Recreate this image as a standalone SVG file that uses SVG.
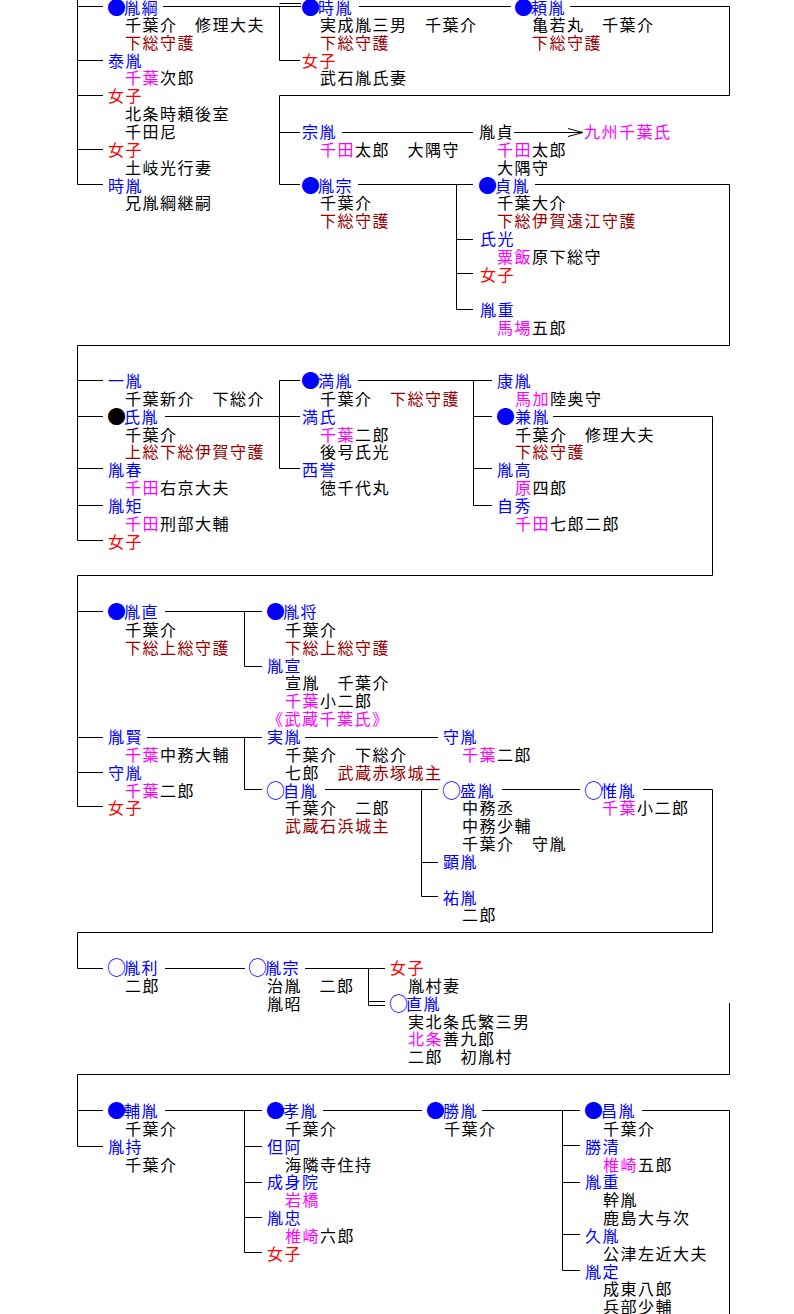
<svg xmlns="http://www.w3.org/2000/svg" width="794" height="1314" viewBox="0 0 794 1314">
<defs>
<style>
text{font-family:"Noto Sans CJK JP","Noto Sans CJK SC",sans-serif;font-size:16px;letter-spacing:1.5px;fill:#000}
.n{fill:#0000ff}.f{fill:#ff0000}.r{fill:#990000}.m{fill:#ff00ff}.k{fill:#000}
.mk{font-size:19px;letter-spacing:0}
#connectors path{stroke:#000;stroke-width:1;fill:none}
</style>
<marker id="arr" markerUnits="userSpaceOnUse" markerWidth="16" markerHeight="10" refX="15" refY="4" orient="auto" overflow="visible"><path d="M0,0 L15,4 L0,8" fill="none" stroke="#000" stroke-width="1"/></marker>
</defs>
<rect width="794" height="1314" fill="#fff"/>
<g id="connectors">
<path d="M77.5,0 V184.5 M77.5,6.5 H103 M77.5,60.5 H103 M77.5,95.5 H103 M77.5,149.5 H103 M77.5,184.5 H103 M163,6.5 H301 M279.5,3.5 H301 M279.5,6.5 V60.5 H300 M359,6.5 H511 M570,6.5 H729.5 V95.5 H279.5 V184.5 H300 M279.5,132.5 H300 M342,132.5 H473 M358,184.5 H473 M535,184.5 H729.5 V345.5 H77.5 V540.5 M456.5,184.5 V309.5 H473 M456.5,239.5 H473 M456.5,273.5 H473"/>
<path d="M514,132.5 H583" marker-end="url(#arr)"/>
<path d="M77.5,380.5 H103 M77.5,416.5 H103 M77.5,468.5 H103 M77.5,505.5 H103 M77.5,540.5 H103 M165,416.5 H300 M279.5,380.5 V468.5 H300 M279.5,380.5 H300 M358,380.5 H492 M473.5,380.5 V505.5 H492 M473.5,416.5 H492 M473.5,468.5 H492 M553,416.5 H712.5 V575.5 H77.5 V806.5"/>
<path d="M77.5,611.5 H103 M77.5,737.5 H103 M77.5,772.5 H103 M77.5,806.5 H103 M165,611.5 H262 M244.5,611.5 V666.5 H262 M147,737.5 H262 M244.5,737.5 V789.5 H262 M305,737.5 H438 M325,789.5 H438 M421.5,789.5 V896.5 H438 M421.5,862.5 H438 M502,789.5 H580 M643,789.5 H712.5 V932.5 H77.5 V968.5 H103"/>
<path d="M165,968.5 H245 M305,968.5 H385 M368.5,968.5 V1005.5 H385 M368.5,1001.5 H385 M729.5,1003 V1074.5 H77.5 V1146.5"/>
<path d="M77.5,1110.5 H103 M77.5,1146.5 H103 M165,1110.5 H262 M244.5,1110.5 V1252.5 H262 M244.5,1146.5 H262 M244.5,1182.5 H262 M244.5,1217.5 H262 M323,1110.5 H422 M482,1110.5 H580 M562.5,1110.5 V1270.5 H580 M562.5,1145.5 H580 M562.5,1182.5 H580 M562.5,1234.5 H580 M642,1110.5 H729.5 V1314"/>
</g>
<!-- Section 1 -->
<g id="s1-tanetsuna"><text class="n mk" x="107" y="15">●</text><text class="n" x="124" y="14">胤綱</text><text x="125" y="31">千葉介　修理大夫</text><text class="r" x="125" y="49">下総守護</text></g>
<g id="s1-yasutane"><text class="n" x="108" y="67">泰胤</text><text x="125" y="84"><tspan class="m">千葉</tspan>次郎</text></g>
<g id="s1-joshi1"><text class="f" x="108" y="102">女子</text><text x="125" y="120">北条時頼後室</text><text x="125" y="138">千田尼</text></g>
<g id="s1-joshi2"><text class="f" x="108" y="156">女子</text><text x="125" y="174">土岐光行妻</text></g>
<g id="s1-tokitane2"><text class="n" x="108" y="192">時胤</text><text x="125" y="209">兄胤綱継嗣</text></g>
<g id="s1-tokitane"><text class="n mk" x="301" y="15">●</text><text class="n" x="318" y="14">時胤</text><text x="320" y="31">実成胤三男　千葉介</text><text class="r" x="320" y="49">下総守護</text></g>
<g id="s1-joshi3"><text class="f" x="302" y="67">女子</text><text x="320" y="84">武石胤氏妻</text></g>
<g id="s1-munetane"><text class="n" x="302" y="138">宗胤</text><text x="320" y="156"><tspan class="m">千田</tspan>太郎　大隅守</text></g>
<g id="s1-tanemune"><text class="n mk" x="301" y="193">●</text><text class="n" x="318" y="192">胤宗</text><text x="320" y="209">千葉介</text><text class="r" x="320" y="227">下総守護</text></g>
<g id="s1-yoritane"><text class="n mk" x="514" y="15">●</text><text class="n" x="531" y="14">頼胤</text><text x="532" y="31">亀若丸　千葉介</text><text class="r" x="532" y="49">下総守護</text></g>
<g id="s1-tanesada"><text x="479" y="138">胤貞</text><text x="497" y="156"><tspan class="m">千田</tspan>太郎</text><text x="497" y="174">大隅守</text></g>
<g id="s1-kyushu"><text class="m" x="584" y="138">九州千葉氏</text></g>
<g id="s1-sadatane"><text class="n mk" x="478" y="193">●</text><text class="n" x="495" y="192">貞胤</text><text x="497" y="209">千葉大介</text><text class="r" x="497" y="227">下総伊賀遠江守護</text></g>
<g id="s1-ujimitsu"><text class="n" x="480" y="245">氏光</text><text x="497" y="263"><tspan class="m">粟飯</tspan>原下総守</text></g>
<g id="s1-joshi4"><text class="f" x="480" y="281">女子</text></g>
<g id="s1-taneshige"><text class="n" x="480" y="316">胤重</text><text x="497" y="334"><tspan class="m">馬場</tspan>五郎</text></g>
<!-- Section 2 -->
<g id="s2-kazutane"><text class="n" x="108" y="387">一胤</text><text x="125" y="405">千葉新介　下総介</text></g>
<g id="s2-ujitane"><text class="k mk" x="107" y="424">●</text><text class="n" x="124" y="423">氏胤</text><text x="125" y="441">千葉介</text><text class="r" x="125" y="458">上総下総伊賀守護</text></g>
<g id="s2-taneharu"><text class="n" x="108" y="476">胤春</text><text x="125" y="494"><tspan class="m">千田</tspan>右京大夫</text></g>
<g id="s2-tanenori"><text class="n" x="108" y="512">胤矩</text><text x="125" y="530"><tspan class="m">千田</tspan>刑部大輔</text></g>
<g id="s2-joshi"><text class="f" x="108" y="548">女子</text></g>
<g id="s2-mitsutane"><text class="n mk" x="301" y="388">●</text><text class="n" x="318" y="387">満胤</text><text x="320" y="405">千葉介　<tspan class="r">下総守護</tspan></text></g>
<g id="s2-mitsuuji"><text class="n" x="302" y="423">満氏</text><text x="320" y="441"><tspan class="m">千葉</tspan>二郎</text><text x="320" y="458">後号氏光</text></g>
<g id="s2-saiyo"><text class="n" x="302" y="476">西誉</text><text x="320" y="494">徳千代丸</text></g>
<g id="s2-yasutane"><text class="n" x="497" y="387">康胤</text><text x="515" y="405"><tspan class="m">馬加</tspan>陸奥守</text></g>
<g id="s2-kanetane"><text class="n mk" x="496" y="424">●</text><text class="n" x="515" y="423">兼胤</text><text x="515" y="441">千葉介　修理大夫</text><text class="r" x="515" y="458">下総守護</text></g>
<g id="s2-tanetaka"><text class="n" x="497" y="476">胤高</text><text x="515" y="494"><tspan class="m">原</tspan>四郎</text></g>
<g id="s2-jishu"><text class="n" x="497" y="512">自秀</text><text x="515" y="530"><tspan class="m">千田</tspan>七郎二郎</text></g>
<!-- Section 3 -->
<g id="s3-tanenao"><text class="n mk" x="107" y="619">●</text><text class="n" x="124" y="618">胤直</text><text x="125" y="636">千葉介</text><text class="r" x="125" y="654">下総上総守護</text></g>
<g id="s3-tanekata"><text class="n" x="108" y="743">胤賢</text><text x="125" y="761"><tspan class="m">千葉</tspan>中務大輔</text></g>
<g id="s3-moritane1"><text class="n" x="108" y="779">守胤</text><text x="125" y="797"><tspan class="m">千葉</tspan>二郎</text></g>
<g id="s3-joshi"><text class="f" x="108" y="814">女子</text></g>
<g id="s3-tanemasa"><text class="n mk" x="266" y="619">●</text><text class="n" x="283" y="618">胤将</text><text x="285" y="636">千葉介</text><text class="r" x="285" y="654">下総上総守護</text></g>
<g id="s3-tanenobu"><text class="n" x="267" y="672">胤宣</text><text x="285" y="689">宣胤　千葉介</text><text x="285" y="707"><tspan class="m">千葉</tspan>小二郎</text><text class="m" x="267" y="725">《武蔵千葉氏》</text></g>
<g id="s3-sanetane"><text class="n" x="267" y="743">実胤</text><text x="285" y="761">千葉介　下総介</text><text x="285" y="779">七郎　<tspan class="r">武蔵赤塚城主</tspan></text></g>
<g id="s3-yoritane"><text class="n mk" x="266" y="798">○</text><text class="n" x="283" y="797">自胤</text><text x="285" y="814">千葉介　二郎</text><text class="r" x="285" y="832">武蔵石浜城主</text></g>
<g id="s3-moritane2"><text class="n" x="443" y="743">守胤</text><text x="462" y="761"><tspan class="m">千葉</tspan>二郎</text></g>
<g id="s3-moritane3"><text class="n mk" x="442" y="798">○</text><text class="n" x="460" y="797">盛胤</text><text x="462" y="814">中務丞</text><text x="462" y="832">中務少輔</text><text x="462" y="850">千葉介　守胤</text></g>
<g id="s3-akitane"><text class="n" x="443" y="868">顕胤</text></g>
<g id="s3-suketane"><text class="n" x="443" y="904">祐胤</text><text x="462" y="921">二郎</text></g>
<g id="s3-koretane"><text class="n mk" x="584" y="798">○</text><text class="n" x="601" y="797">惟胤</text><text x="602" y="814"><tspan class="m">千葉</tspan>小二郎</text></g>
<!-- Section 4 -->
<g id="s4-tanetoshi"><text class="n mk" x="107" y="975">○</text><text class="n" x="124" y="974">胤利</text><text x="125" y="992">二郎</text></g>
<g id="s4-tanemune"><text class="n mk" x="248" y="975">○</text><text class="n" x="265" y="974">胤宗</text><text x="267" y="992">治胤　二郎</text><text x="267" y="1010">胤昭</text></g>
<g id="s4-joshi"><text class="f" x="390" y="974">女子</text><text x="408" y="992">胤村妻</text></g>
<g id="s4-naotane"><text class="n mk" x="389" y="1011">○</text><text class="n" x="406" y="1010">直胤</text><text x="408" y="1028">実北条氏繁三男</text><text x="408" y="1045"><tspan class="m">北条</tspan>善九郎</text><text x="408" y="1063">二郎　初胤村</text></g>
<!-- Section 5 -->
<g id="s5-suketane"><text class="n mk" x="107" y="1118">●</text><text class="n" x="124" y="1117">輔胤</text><text x="125" y="1135">千葉介</text></g>
<g id="s5-tanemochi"><text class="n" x="108" y="1153">胤持</text><text x="125" y="1171">千葉介</text></g>
<g id="s5-noritane"><text class="n mk" x="266" y="1118">●</text><text class="n" x="283" y="1117">孝胤</text><text x="285" y="1135">千葉介</text></g>
<g id="s5-tana"><text class="n" x="267" y="1153">但阿</text><text x="285" y="1171">海隣寺住持</text></g>
<g id="s5-jojinin"><text class="n" x="267" y="1188">成身院</text><text class="m" x="285" y="1206">岩橋</text></g>
<g id="s5-tanetada"><text class="n" x="267" y="1224">胤忠</text><text x="285" y="1242"><tspan class="m">椎崎</tspan>六郎</text></g>
<g id="s5-joshi"><text class="f" x="267" y="1260">女子</text></g>
<g id="s5-katsutane"><text class="n mk" x="426" y="1118">●</text><text class="n" x="443" y="1117">勝胤</text><text x="444" y="1135">千葉介</text></g>
<g id="s5-masatane"><text class="n mk" x="584" y="1118">●</text><text class="n" x="601" y="1117">昌胤</text><text x="603" y="1135">千葉介</text></g>
<g id="s5-katsukiyo"><text class="n" x="585" y="1153">勝清</text><text x="603" y="1171"><tspan class="m">椎崎</tspan>五郎</text></g>
<g id="s5-taneshige"><text class="n" x="585" y="1188">胤重</text><text x="603" y="1206">幹胤</text><text x="603" y="1224">鹿島大与次</text></g>
<g id="s5-hisatane"><text class="n" x="585" y="1242">久胤</text><text x="603" y="1260">公津左近大夫</text></g>
<g id="s5-tanesada"><text class="n" x="585" y="1278">胤定</text><text x="603" y="1295">成東八郎</text><text x="603" y="1313">兵部少輔</text></g>
</svg>
